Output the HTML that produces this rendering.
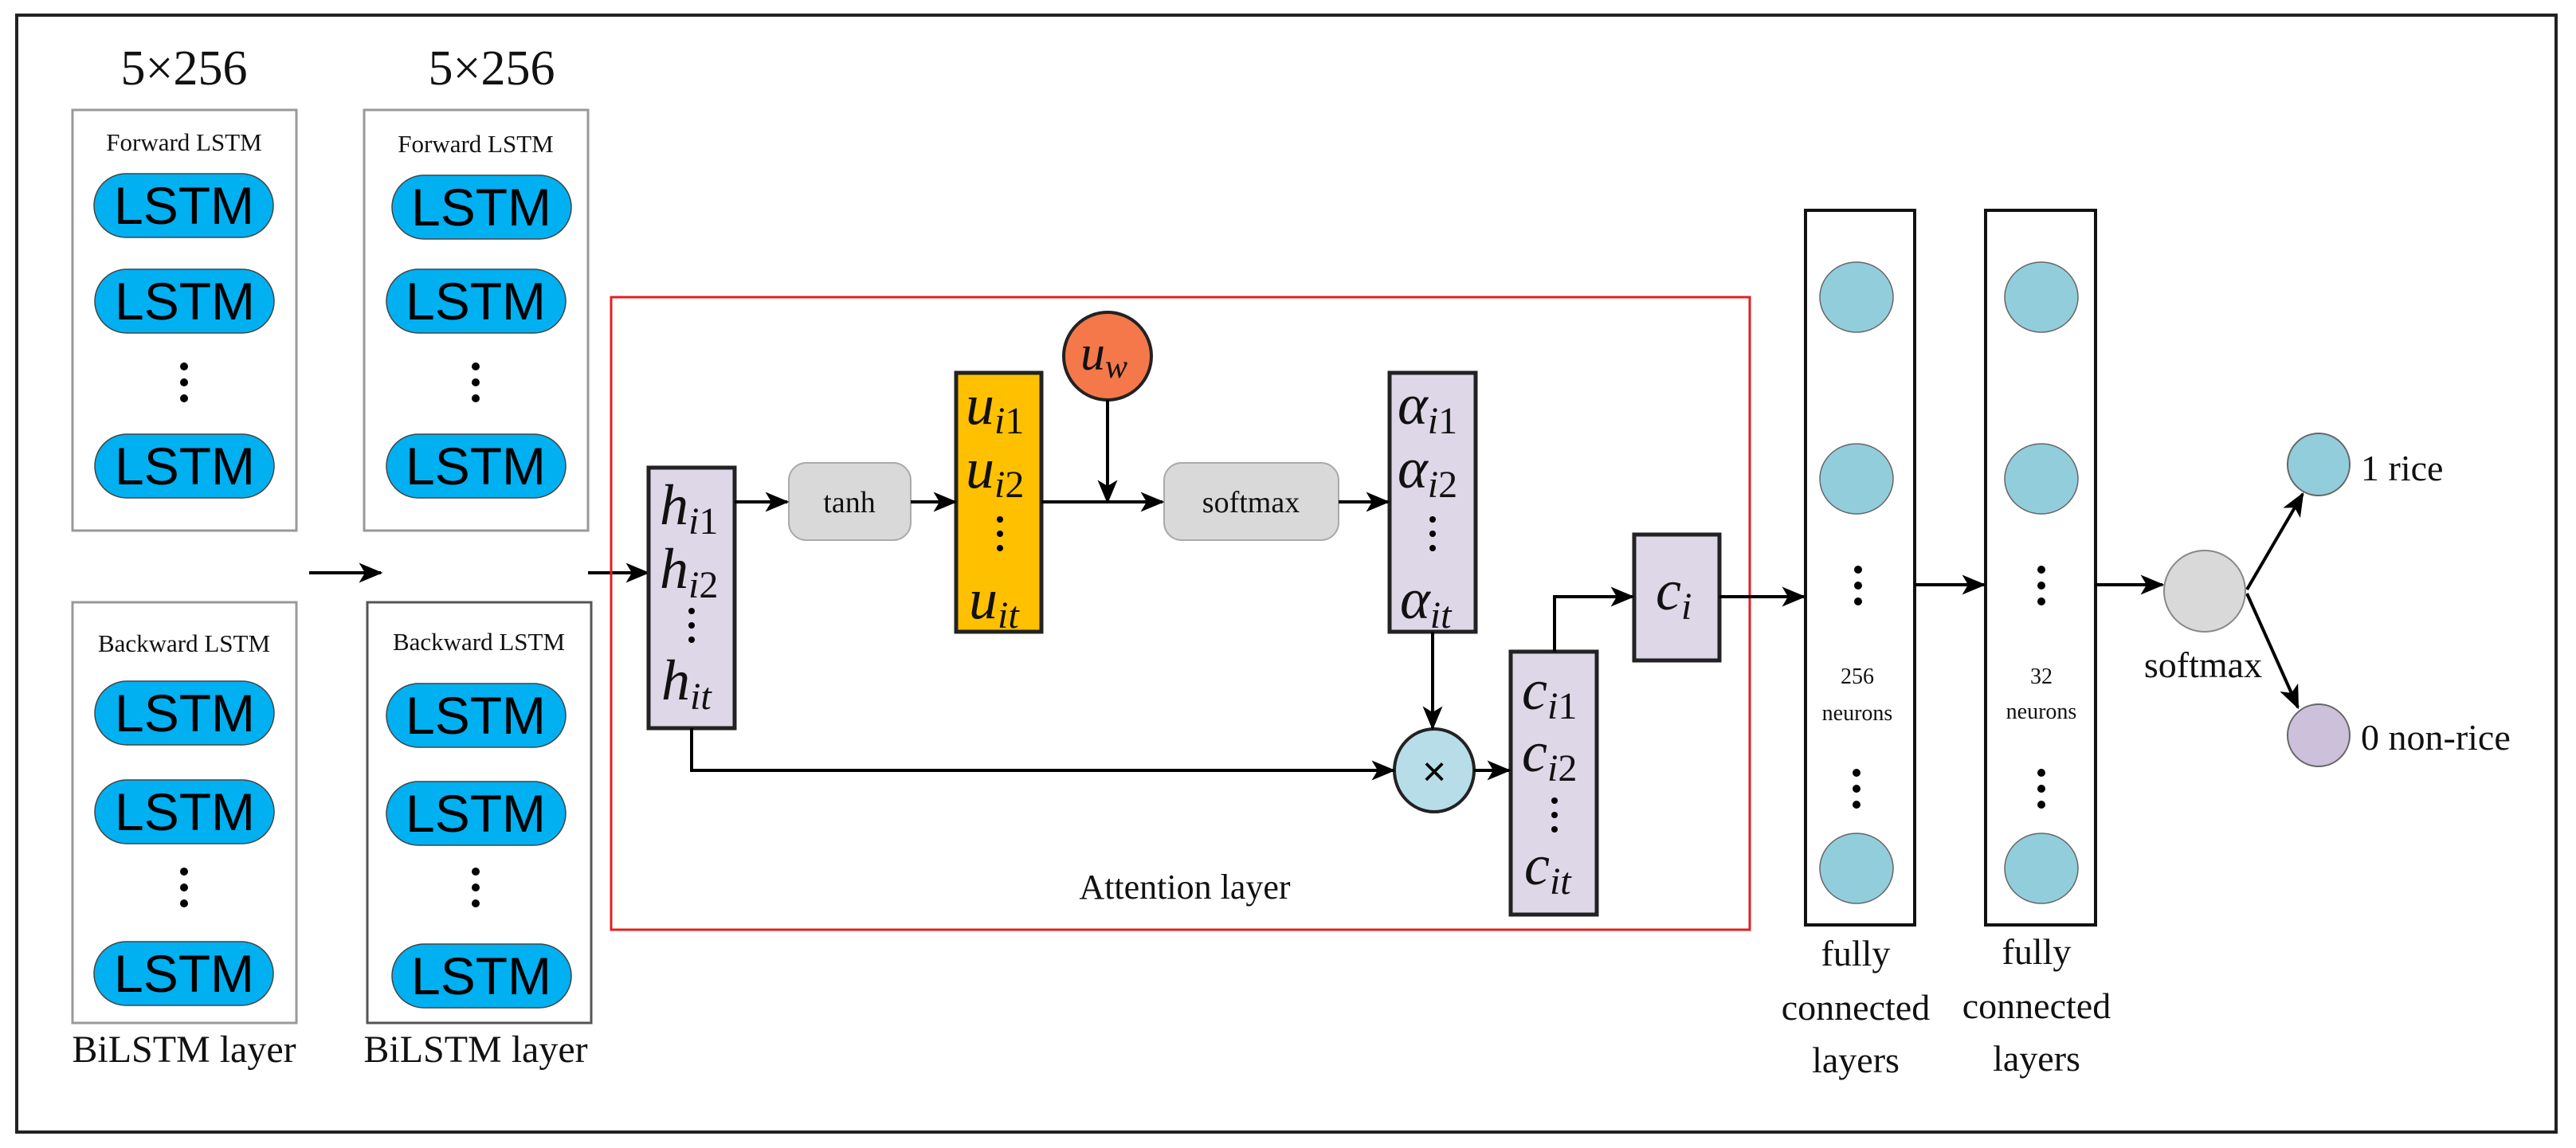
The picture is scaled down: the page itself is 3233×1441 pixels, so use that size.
<!DOCTYPE html>
<html><head><meta charset="utf-8"><style>
html,body{margin:0;padding:0;background:#fff;}
svg{display:block}
.t{font-family:"Liberation Serif",serif;fill:#111}
.s{font-family:"Liberation Sans",sans-serif;fill:#000}
.m{font-family:"Liberation Serif",serif;font-style:italic;fill:#111}
</style></head><body>
<svg width="3233" height="1441" viewBox="0 0 3233 1441" xmlns="http://www.w3.org/2000/svg">
<defs>
<marker id="ar" viewBox="0 0 12 10" refX="11" refY="5" markerWidth="30" markerHeight="26" orient="auto" markerUnits="userSpaceOnUse"><path d="M0,0 L12,5 L0,10 L3,5 Z" fill="#000"/></marker>
</defs>
<rect x="0" y="0" width="3233" height="1441" fill="#fff"/>
<rect x="21" y="19" width="3187" height="1402" fill="none" stroke="#222" stroke-width="4"/>

<text class="t" x="231" y="106" font-size="62" text-anchor="middle">5×256</text>
<text class="t" x="617" y="106" font-size="62" text-anchor="middle">5×256</text>

<g fill="none" stroke="#999" stroke-width="3">
<rect x="91" y="138" width="281" height="528"/>
<rect x="457" y="138" width="281" height="528"/>
<rect x="91" y="756" width="281" height="528"/>
<rect x="461" y="756" width="281" height="528" stroke="#555"/>
</g>
<text class="t" x="231" y="189" font-size="31" text-anchor="middle">Forward LSTM</text>
<text class="t" x="597" y="191" font-size="31" text-anchor="middle">Forward LSTM</text>
<text class="t" x="231" y="818" font-size="31" text-anchor="middle">Backward LSTM</text>
<text class="t" x="601" y="816" font-size="31" text-anchor="middle">Backward LSTM</text>

<g fill="#00B0F0" stroke="#444" stroke-width="1.5">
<rect x="118" y="218" width="225" height="80" rx="40"/>
<rect x="119" y="338" width="225" height="80" rx="40"/>
<rect x="119" y="545" width="225" height="80" rx="40"/>
<rect x="119" y="855" width="225" height="80" rx="40"/>
<rect x="119" y="979" width="225" height="80" rx="40"/>
<rect x="118" y="1182" width="225" height="80" rx="40"/>
<rect x="492" y="220" width="225" height="80" rx="40"/>
<rect x="485" y="338" width="225" height="80" rx="40"/>
<rect x="485" y="545" width="225" height="80" rx="40"/>
<rect x="485" y="858" width="225" height="80" rx="40"/>
<rect x="485" y="981" width="225" height="80" rx="40"/>
<rect x="492" y="1185" width="225" height="80" rx="40"/>
</g>
<g class="s" font-size="66" text-anchor="middle">
<text x="231" y="281">LSTM</text>
<text x="232" y="401">LSTM</text>
<text x="232" y="608">LSTM</text>
<text x="232" y="918">LSTM</text>
<text x="232" y="1042">LSTM</text>
<text x="231" y="1245">LSTM</text>
<text x="604" y="283">LSTM</text>
<text x="597" y="401">LSTM</text>
<text x="597" y="608">LSTM</text>
<text x="597" y="921">LSTM</text>
<text x="597" y="1044">LSTM</text>
<text x="604" y="1248">LSTM</text>
</g>
<g fill="#000">
<circle cx="231" cy="460" r="5"/><circle cx="231" cy="480" r="5"/><circle cx="231" cy="500" r="5"/>
<circle cx="597" cy="460" r="5"/><circle cx="597" cy="480" r="5"/><circle cx="597" cy="500" r="5"/>
<circle cx="231" cy="1094" r="5"/><circle cx="231" cy="1114" r="5"/><circle cx="231" cy="1134" r="5"/>
<circle cx="597" cy="1094" r="5"/><circle cx="597" cy="1114" r="5"/><circle cx="597" cy="1134" r="5"/>
</g>
<text class="t" x="231" y="1333" font-size="48" text-anchor="middle">BiLSTM layer</text>
<text class="t" x="597" y="1333" font-size="48" text-anchor="middle">BiLSTM layer</text>

<g stroke="#000" stroke-width="4" fill="none" marker-end="url(#ar)">
<line x1="388" y1="719" x2="478" y2="719"/>
<line x1="738" y1="719" x2="813" y2="719"/>
</g>

<rect x="767" y="373" width="1429" height="794" fill="none" stroke="#E32020" stroke-width="3"/>
<text class="t" x="1487" y="1128" font-size="44" text-anchor="middle">Attention layer</text>

<rect x="814" y="587" width="108" height="327" fill="#DDD7E8" stroke="#222" stroke-width="5"/>
<g class="m" font-size="72">
<text x="828" y="658">h<tspan font-size="48" dy="12">i</tspan><tspan font-style="normal" font-size="48">1</tspan></text>
<text x="828" y="738">h<tspan font-size="48" dy="12">i</tspan><tspan font-style="normal" font-size="48">2</tspan></text>
<text x="830" y="878">h<tspan font-size="48" dy="12">it</tspan></text>
</g>
<g fill="#000"><circle cx="868" cy="767" r="4"/><circle cx="868" cy="785" r="4"/><circle cx="868" cy="803" r="4"/></g>

<rect x="990" y="581" width="153" height="97" rx="22" fill="#D9D9D9" stroke="#aaa" stroke-width="2"/>
<text class="t" x="1066" y="643" font-size="38" text-anchor="middle">tanh</text>

<rect x="1200" y="468" width="107" height="325" fill="#FFC000" stroke="#222" stroke-width="5"/>
<g class="m" font-size="72">
<text x="1212" y="532">u<tspan font-size="48" dy="12">i</tspan><tspan font-style="normal" font-size="48">1</tspan></text>
<text x="1212" y="612">u<tspan font-size="48" dy="12">i</tspan><tspan font-style="normal" font-size="48">2</tspan></text>
<text x="1216" y="776">u<tspan font-size="48" dy="12">it</tspan></text>
</g>
<g fill="#000"><circle cx="1255" cy="652" r="4"/><circle cx="1255" cy="670" r="4"/><circle cx="1255" cy="688" r="4"/></g>

<circle cx="1390" cy="447" r="55" fill="#F4784A" stroke="#222" stroke-width="4"/>
<text class="m" x="1356" y="464" font-size="62">u<tspan font-size="42" dy="10">w</tspan></text>

<rect x="1461" y="581" width="219" height="97" rx="22" fill="#D9D9D9" stroke="#aaa" stroke-width="2"/>
<text class="t" x="1570" y="643" font-size="38" text-anchor="middle">softmax</text>

<rect x="1744" y="468" width="108" height="325" fill="#DDD7E8" stroke="#222" stroke-width="5"/>
<g class="m" font-size="72">
<text x="1754" y="532">α<tspan font-size="48" dy="12">i</tspan><tspan font-style="normal" font-size="48">1</tspan></text>
<text x="1754" y="612">α<tspan font-size="48" dy="12">i</tspan><tspan font-style="normal" font-size="48">2</tspan></text>
<text x="1757" y="776">α<tspan font-size="48" dy="12">it</tspan></text>
</g>
<g fill="#000"><circle cx="1798" cy="652" r="4"/><circle cx="1798" cy="670" r="4"/><circle cx="1798" cy="688" r="4"/></g>

<ellipse cx="1800" cy="967" rx="50" ry="52" fill="#B7DDE8" stroke="#222" stroke-width="4"/>
<text class="s" x="1800" y="986" font-size="52" text-anchor="middle">×</text>

<rect x="1896" y="818" width="108" height="330" fill="#DDD7E8" stroke="#222" stroke-width="5"/>
<g class="m" font-size="72">
<text x="1910" y="890">c<tspan font-size="48" dy="12">i</tspan><tspan font-style="normal" font-size="48">1</tspan></text>
<text x="1910" y="968">c<tspan font-size="48" dy="12">i</tspan><tspan font-style="normal" font-size="48">2</tspan></text>
<text x="1913" y="1110">c<tspan font-size="48" dy="12">it</tspan></text>
</g>
<g fill="#000"><circle cx="1951" cy="1005" r="4"/><circle cx="1951" cy="1023" r="4"/><circle cx="1951" cy="1041" r="4"/></g>

<rect x="2051" y="671" width="107" height="158" fill="#DDD7E8" stroke="#222" stroke-width="5"/>
<text class="m" x="2078" y="765" font-size="72">c<tspan font-size="48" dy="12">i</tspan></text>

<g stroke="#000" stroke-width="4" fill="none">
<line x1="922" y1="630" x2="988" y2="630" marker-end="url(#ar)"/>
<line x1="1143" y1="630" x2="1199" y2="630" marker-end="url(#ar)"/>
<line x1="1307" y1="630" x2="1459" y2="630" marker-end="url(#ar)"/>
<line x1="1390" y1="502" x2="1390" y2="630" marker-end="url(#ar)"/>
<line x1="1680" y1="630" x2="1742" y2="630" marker-end="url(#ar)"/>
<line x1="1798" y1="793" x2="1798" y2="914" marker-end="url(#ar)"/>
<polyline points="868,914 868,967 1749,967" marker-end="url(#ar)"/>
<line x1="1850" y1="967" x2="1894" y2="967" marker-end="url(#ar)"/>
<polyline points="1951,818 1951,749 2049,749" marker-end="url(#ar)"/>
<line x1="2158" y1="749" x2="2264" y2="749" marker-end="url(#ar)"/>
</g>

<rect x="2266" y="264" width="137" height="897" fill="#fff" stroke="#111" stroke-width="4"/>
<rect x="2492" y="264" width="138" height="897" fill="#fff" stroke="#111" stroke-width="4"/>
<g fill="#92CDDC" stroke="#666" stroke-width="1.5">
<ellipse cx="2330" cy="373" rx="46" ry="44"/>
<ellipse cx="2330" cy="601" rx="46" ry="44"/>
<ellipse cx="2330" cy="1090" rx="46" ry="44"/>
<ellipse cx="2562" cy="373" rx="46" ry="44"/>
<ellipse cx="2562" cy="601" rx="46" ry="44"/>
<ellipse cx="2562" cy="1090" rx="46" ry="44"/>
</g>
<g fill="#000">
<circle cx="2332" cy="715" r="5"/><circle cx="2332" cy="735" r="5"/><circle cx="2332" cy="755" r="5"/>
<circle cx="2330" cy="970" r="5"/><circle cx="2330" cy="990" r="5"/><circle cx="2330" cy="1010" r="5"/>
<circle cx="2562" cy="715" r="5"/><circle cx="2562" cy="735" r="5"/><circle cx="2562" cy="755" r="5"/>
<circle cx="2562" cy="970" r="5"/><circle cx="2562" cy="990" r="5"/><circle cx="2562" cy="1010" r="5"/>
</g>
<g class="t" font-size="28" text-anchor="middle">
<text x="2331" y="858">256</text><text x="2331" y="904">neurons</text>
<text x="2562" y="858">32</text><text x="2562" y="902">neurons</text>
</g>
<g class="t" font-size="46" text-anchor="middle">
<text x="2329" y="1212">fully</text><text x="2329" y="1280">connected</text><text x="2329" y="1346">layers</text>
<text x="2556" y="1210">fully</text><text x="2556" y="1278">connected</text><text x="2556" y="1344">layers</text>
</g>

<g stroke="#000" stroke-width="4" fill="none">
<line x1="2403" y1="734" x2="2490" y2="734" marker-end="url(#ar)"/>
<line x1="2630" y1="734" x2="2714" y2="734" marker-end="url(#ar)"/>
<line x1="2820" y1="740" x2="2890" y2="620" marker-end="url(#ar)"/>
<line x1="2820" y1="745" x2="2884" y2="888" marker-end="url(#ar)"/>
</g>

<ellipse cx="2767" cy="742" rx="51" ry="51" fill="#D9D9D9" stroke="#888" stroke-width="2"/>
<text class="t" x="2765" y="850" font-size="46" text-anchor="middle">softmax</text>
<circle cx="2910" cy="583" r="39" fill="#92CDDC" stroke="#666" stroke-width="2"/>
<circle cx="2910" cy="923" r="39" fill="#CCC0DA" stroke="#666" stroke-width="2"/>
<text class="t" x="2963" y="603" font-size="46">1 rice</text>
<text class="t" x="2963" y="941" font-size="46">0 non-rice</text>
</svg>
</body></html>
